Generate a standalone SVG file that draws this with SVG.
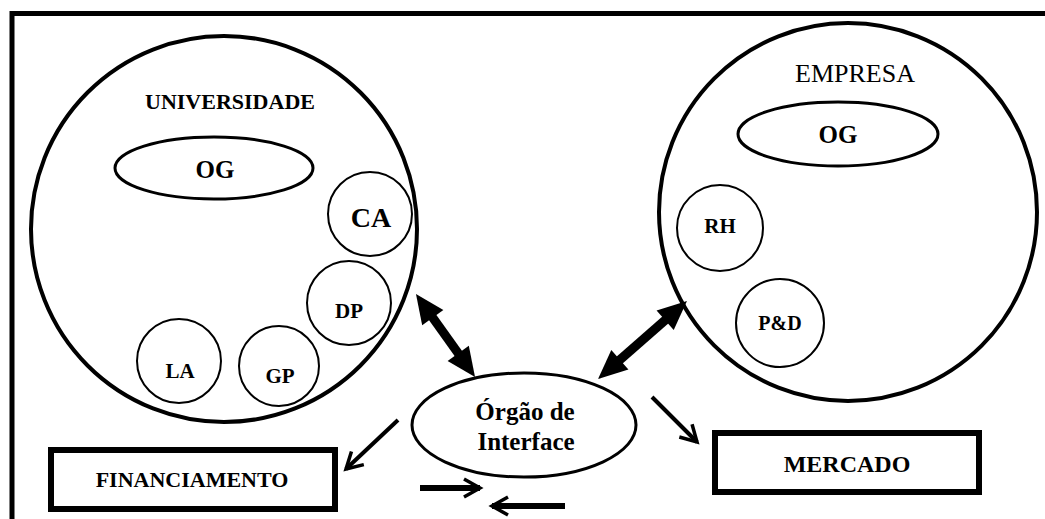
<svg xmlns="http://www.w3.org/2000/svg" width="1045" height="519" viewBox="0 0 1045 519">
  <style>
    .lbl { font-family: "Liberation Serif", "Times New Roman", serif; font-weight: bold; fill: #000; text-anchor: middle; }
    .big { fill: #fff; stroke: #000; stroke-width: 4; }
    .og { fill: #fff; stroke: #000; stroke-width: 3; }
    .sub { fill: #fff; stroke: #000; stroke-width: 2; }
    .box { fill: #fff; stroke: #000; stroke-width: 6; }
    .thick { stroke: #000; stroke-width: 9; fill: none; }
    .thin { stroke: #000; stroke-width: 4; fill: none; }
    .flow { stroke: #000; stroke-width: 6; fill: none; }
  </style>
  <defs>
    <marker id="solidHead" markerUnits="userSpaceOnUse" markerWidth="32" markerHeight="30" viewBox="-2 -14 32 28" refX="0" refY="0" orient="auto-start-reverse">
      <path d="M-1,-13 L28,0 L-1,13 Z" fill="#000"/>
    </marker>
    <marker id="openHead" markerUnits="userSpaceOnUse" markerWidth="24" markerHeight="24" viewBox="-20 -12 24 24" refX="0" refY="0" orient="auto">
      <path d="M-16,-9 L0,0 L-16,9" fill="none" stroke="#000" stroke-width="3.5" stroke-linejoin="miter"/>
    </marker>
  </defs>

  <rect width="1045" height="519" fill="#fff"/>

  <!-- frame (top and left edges) -->
  <g id="frame">
    <line x1="12" y1="13.5" x2="1045" y2="13.5" stroke="#000" stroke-width="5"/>
    <line x1="12" y1="11" x2="12" y2="519" stroke="#000" stroke-width="5"/>
  </g>

  <!-- university -->
  <g id="universidade">
    <circle class="big" cx="224" cy="229" r="193"/>
    <text class="lbl" x="230" y="109" font-size="22">UNIVERSIDADE</text>
  </g>
  <g id="univ-og">
    <ellipse class="og" cx="214" cy="168" rx="99" ry="31"/>
    <text class="lbl" x="215" y="178" font-size="25">OG</text>
  </g>
  <g id="ca">
    <circle class="sub" cx="370" cy="214" r="42"/>
    <text class="lbl" x="371" y="227" font-size="28">CA</text>
  </g>
  <g id="dp">
    <circle class="sub" cx="349" cy="303" r="42"/>
    <text class="lbl" x="349" y="318" font-size="21">DP</text>
  </g>
  <g id="la">
    <circle class="sub" cx="179" cy="361" r="42"/>
    <text class="lbl" x="180" y="378" font-size="21">LA</text>
  </g>
  <g id="gp">
    <circle class="sub" cx="279" cy="366" r="40"/>
    <text class="lbl" x="280" y="383" font-size="21">GP</text>
  </g>

  <!-- company -->
  <g id="empresa">
    <circle class="big" cx="848" cy="212" r="189"/>
    <text class="lbl" x="855" y="82" font-size="26" style="font-weight:normal">EMPRESA</text>
  </g>
  <g id="emp-og">
    <ellipse class="og" cx="838" cy="134" rx="100" ry="32"/>
    <text class="lbl" x="838" y="143" font-size="25">OG</text>
  </g>
  <g id="rh">
    <circle class="sub" cx="720" cy="228" r="43"/>
    <text class="lbl" x="720" y="233" font-size="21">RH</text>
  </g>
  <g id="pd">
    <circle class="sub" cx="780" cy="323" r="44"/>
    <text class="lbl" x="780" y="330" font-size="20">P&amp;D</text>
  </g>

  <!-- interface body -->
  <g id="orgao-interface">
    <ellipse class="og" cx="524" cy="425" rx="112" ry="52"/>
    <text class="lbl" x="525" y="420" font-size="25">Órgão de</text>
    <text class="lbl" x="526" y="450" font-size="25">Interface</text>
  </g>

  <!-- outputs -->
  <g id="financiamento">
    <rect class="box" x="51" y="450" width="284" height="59"/>
    <text class="lbl" x="192" y="487" font-size="22">FINANCIAMENTO</text>
  </g>
  <g id="mercado">
    <rect class="box" x="715" y="433" width="264" height="59"/>
    <text class="lbl" x="847" y="472" font-size="24">MERCADO</text>
  </g>

  <!-- connectors -->
  <g id="connectors">
    <line class="thick" x1="432.2" y1="316.8" x2="458.8" y2="354.2" marker-start="url(#solidHead)" marker-end="url(#solidHead)"/>
    <line class="thick" x1="665.9" y1="319.5" x2="619.1" y2="360.5" marker-start="url(#solidHead)" marker-end="url(#solidHead)"/>
    <line class="thin" x1="398" y1="420" x2="346" y2="469" marker-end="url(#openHead)"/>
    <line class="thin" x1="652" y1="397" x2="697" y2="442" marker-end="url(#openHead)"/>
    <line class="flow" x1="420" y1="488" x2="480" y2="488" marker-end="url(#openHead)"/>
    <line class="flow" x1="565" y1="506" x2="492" y2="506" marker-end="url(#openHead)"/>
  </g>
</svg>
